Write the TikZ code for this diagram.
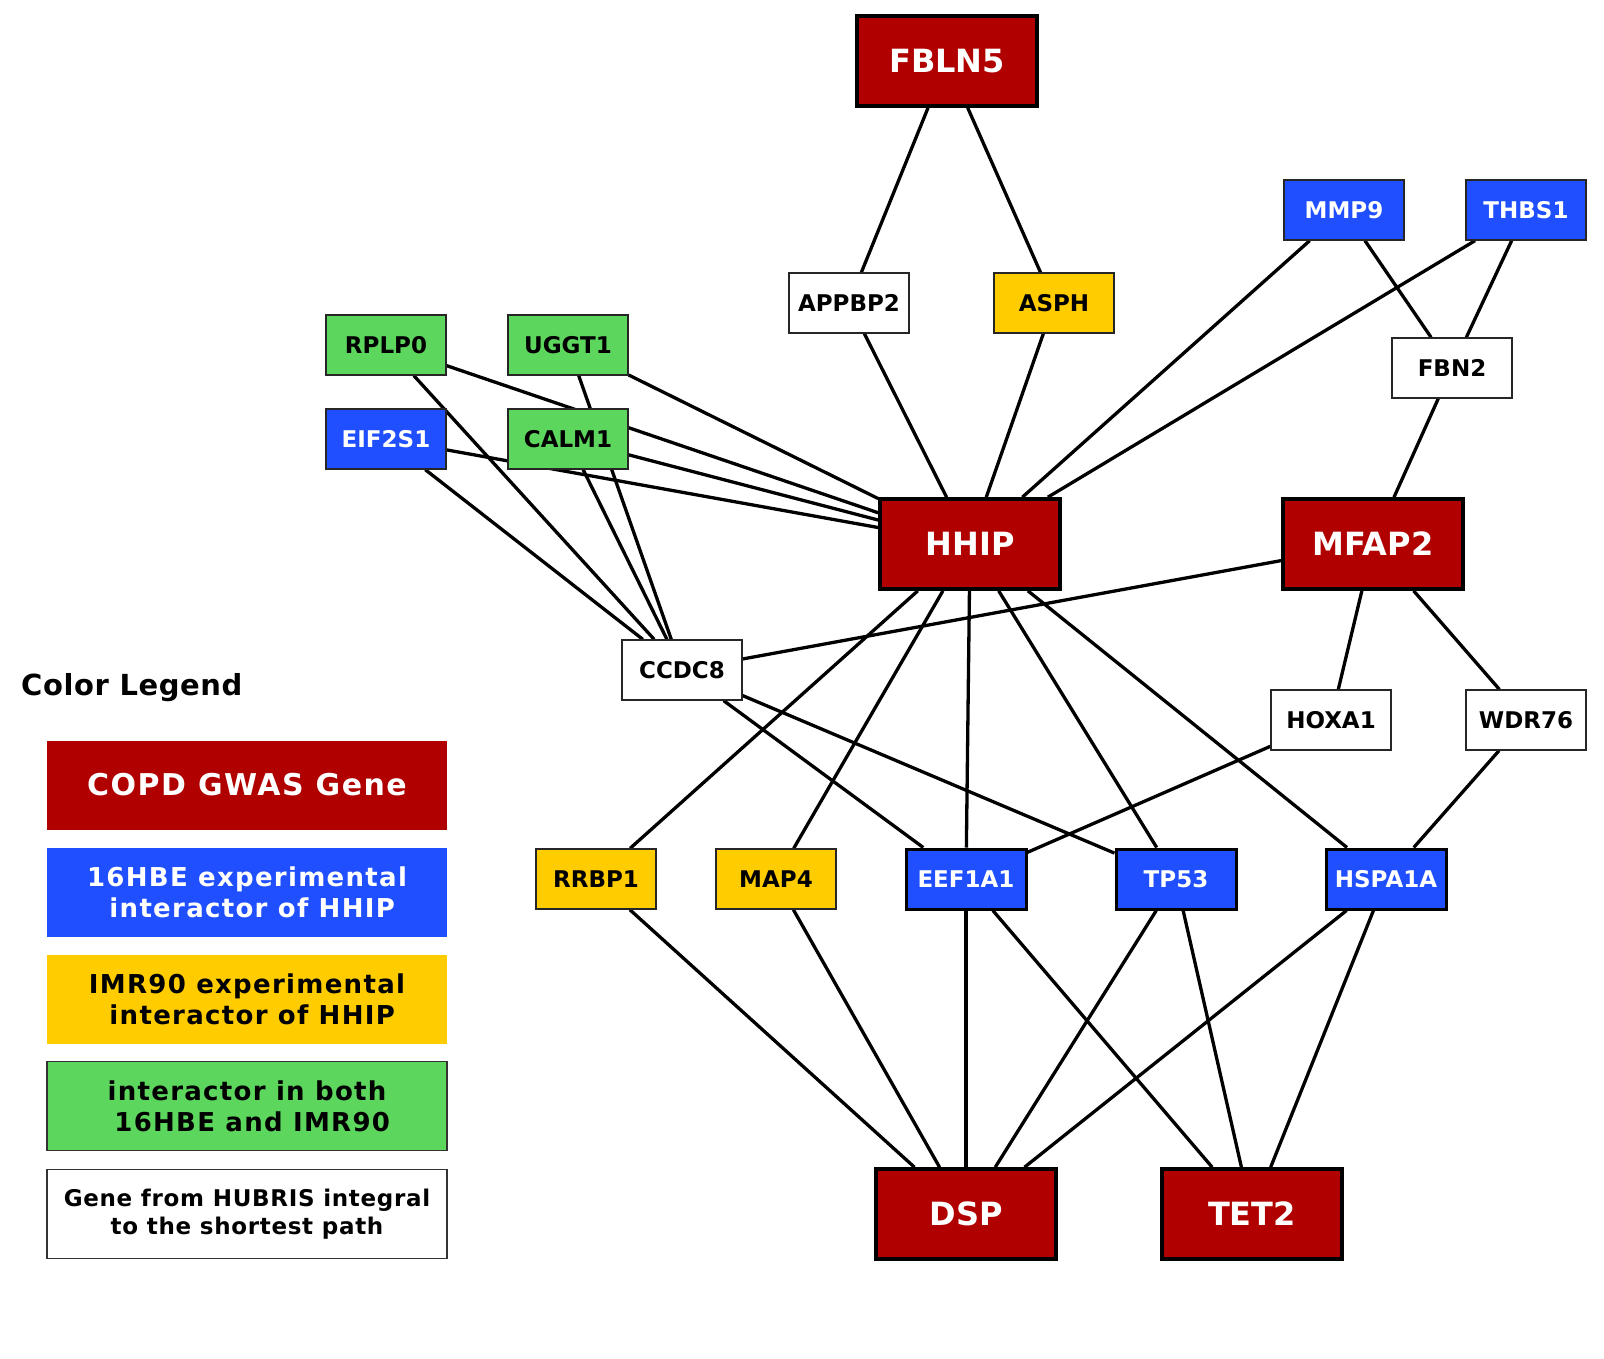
\documentclass[tikz,border=0pt]{standalone}
\usepackage{fontspec}
\setmainfont{DejaVu Sans}
\newfontfamily\legfont{DejaVu Sans}[LetterSpace=5]
\newfontfamily\legfontb{DejaVu Sans}[LetterSpace=3]
\newfontfamily\legfontc{DejaVu Sans}[LetterSpace=2]
\usetikzlibrary{backgrounds}
\definecolor{gwas}{HTML}{B00000}
\definecolor{hbe}{HTML}{1F4FFF}
\definecolor{imr}{HTML}{FFCC00}
\definecolor{both}{HTML}{5CD65C}
\begin{document}
\begin{tikzpicture}[x=1pt,y=-1pt,
  gene/.style={draw=black!85, rectangle, minimum width=120pt, minimum height=60pt, inner sep=0pt,
    font=\fontsize{23}{23}\selectfont\bfseries, line width=1.3pt},
  wgene/.style={gene, fill=white, text=black},
  bgene/.style={gene, fill=hbe, text=white},
  bgenek/.style={gene, fill=hbe, text=white, draw=black, line width=3pt},
  ygene/.style={gene, fill=imr, text=black},
  ggene/.style={gene, fill=both, text=black},
  rgene/.style={draw=black, rectangle, minimum width=180pt, minimum height=90pt, inner sep=0pt,
    font=\fontsize{32}{32}\selectfont\bfseries, fill=gwas, text=white, line width=3.6pt},
  edge/.style={line width=3.3pt, black},
  leg/.style={rectangle, minimum width=400pt, minimum height=89pt, inner sep=0pt, align=center,
    font=\legfont\bfseries\fontsize{30}{32}\selectfont},
  leg2/.style={leg, font=\legfont\bfseries\fontsize{26}{31}\selectfont},
]
\useasboundingbox (0,0) rectangle (1604,1358);
% genes
\node[rgene] (FBLN5) at (947,61) {FBLN5};
\node[wgene] (APPBP2) at (849,303) {APPBP2};
\node[ygene] (ASPH) at (1054,303) {ASPH};
\node[bgene] (MMP9) at (1344,210) {MMP9};
\node[bgene] (THBS1) at (1526,210) {THBS1};
\node[wgene] (FBN2) at (1452,368) {FBN2};
\node[ggene] (RPLP0) at (386,345) {RPLP0};
\node[ggene] (UGGT1) at (568,345) {UGGT1};
\node[bgene] (EIF2S1) at (386,439) {EIF2S1};
\node[ggene] (CALM1) at (568,439) {CALM1};
\node[rgene] (HHIP) at (970,544) {HHIP};
\node[rgene] (MFAP2) at (1373,544) {MFAP2};
\node[wgene] (CCDC8) at (682,670) {CCDC8};
\node[wgene] (HOXA1) at (1331,720) {HOXA1};
\node[wgene] (WDR76) at (1526,720) {WDR76};
\node[ygene] (RRBP1) at (596,879) {RRBP1};
\node[ygene] (MAP4) at (776,879) {MAP4};
\node[bgenek] (EEF1A1) at (966,879) {EEF1A1};
\node[bgenek] (TP53) at (1176,879) {TP53};
\node[bgenek] (HSPA1A) at (1386,879) {HSPA1A};
\node[rgene] (DSP) at (966,1214) {DSP};
\node[rgene] (TET2) at (1252,1214) {TET2};
% legend
\node[font=\legfontc\bfseries\fontsize{29}{29}\selectfont, inner sep=0pt, anchor=west] (title) at (21,688) {Color Legend};
\node[leg, fill=gwas, text=white] (lg1) at (247,785) {COPD GWAS Gene};
\node[leg2, fill=hbe, text=white] (lg2) at (247,892) {16HBE experimental\\\hspace*{0.4em}interactor of HHIP};
\node[leg2, fill=imr, text=black] (lg3) at (247,999) {IMR90 experimental\\\hspace*{0.4em}interactor of HHIP};
\node[leg2, fill=both, text=black, draw=black!80, line width=1.3pt] (lg4) at (247,1106) {interactor in both\\\hspace*{0.4em}16HBE and IMR90};
\node[leg, fill=white, text=black, draw=black!80, line width=1.3pt,
  font=\legfontb\bfseries\fontsize{23}{28}\selectfont] (lg5) at (247,1214) {Gene from HUBRIS integral\\to the shortest path};
% edges
\begin{scope}[on background layer]
\fill[white] (0,0) rectangle (1604,1358);
\draw[edge] (FBLN5) -- (APPBP2);
\draw[edge] (FBLN5) -- (ASPH);
\draw[edge] (APPBP2) -- (HHIP);
\draw[edge] (ASPH) -- (HHIP);
\draw[edge] (MMP9) -- (HHIP);
\draw[edge] (THBS1) -- (HHIP);
\draw[edge] (MMP9) -- (FBN2);
\draw[edge] (THBS1) -- (FBN2);
\draw[edge] (FBN2) -- (MFAP2);
\draw[edge] (RPLP0) -- (HHIP);
\draw[edge] (UGGT1) -- (HHIP);
\draw[edge] (EIF2S1) -- (HHIP);
\draw[edge] (CALM1) -- (HHIP);
\draw[edge] (RPLP0) -- (CCDC8);
\draw[edge] (UGGT1) -- (CCDC8);
\draw[edge] (EIF2S1) -- (CCDC8);
\draw[edge] (CALM1) -- (CCDC8);
\draw[edge] (CCDC8) -- (MFAP2);
\draw[edge] (CCDC8) -- (EEF1A1);
\draw[edge] (CCDC8) -- (TP53);
\draw[edge] (HHIP) -- (RRBP1);
\draw[edge] (HHIP) -- (MAP4);
\draw[edge] (HHIP) -- (EEF1A1);
\draw[edge] (HHIP) -- (TP53);
\draw[edge] (HHIP) -- (HSPA1A);
\draw[edge] (MFAP2) -- (HOXA1);
\draw[edge] (MFAP2) -- (WDR76);
\draw[edge] (HOXA1) -- (EEF1A1);
\draw[edge] (WDR76) -- (HSPA1A);
\draw[edge] (RRBP1) -- (DSP);
\draw[edge] (MAP4) -- (DSP);
\draw[edge] (EEF1A1) -- (DSP);
\draw[edge] (TP53) -- (DSP);
\draw[edge] (HSPA1A) -- (DSP);
\draw[edge] (EEF1A1) -- (TET2);
\draw[edge] (TP53) -- (TET2);
\draw[edge] (HSPA1A) -- (TET2);
\end{scope}
\end{tikzpicture}
\end{document}
